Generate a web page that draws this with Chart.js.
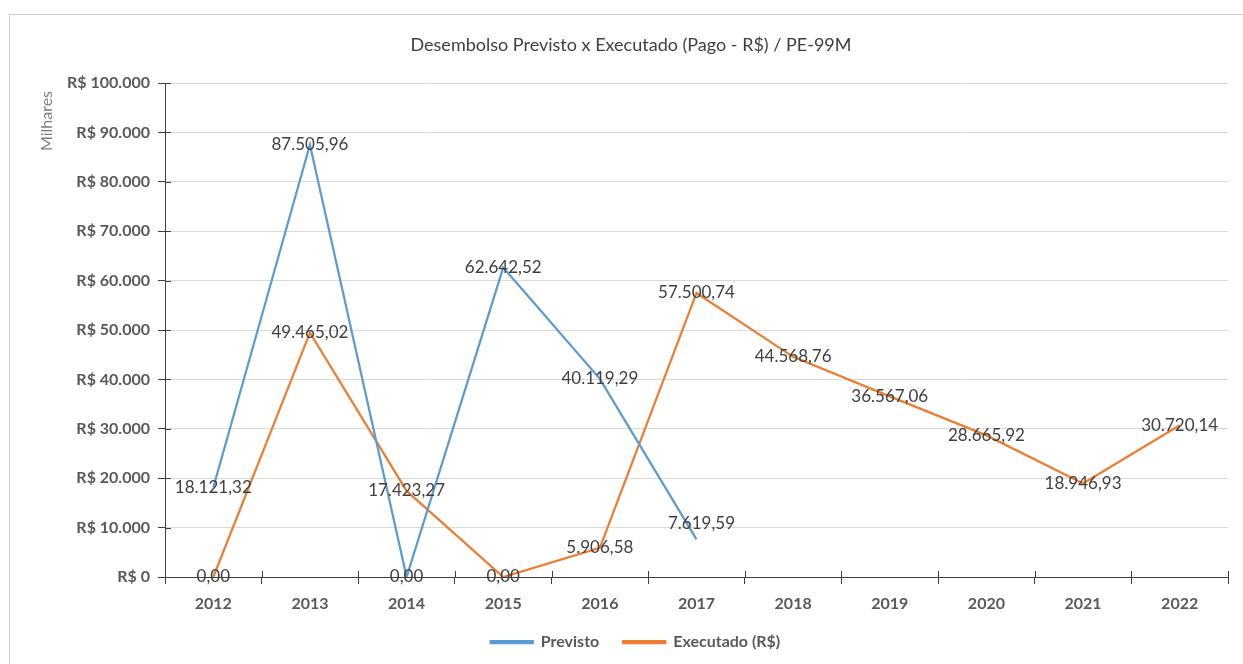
<!DOCTYPE html>
<html>
<head>
<meta charset="utf-8">
<script src="https://cdn.jsdelivr.net/npm/chart.js@4.4.0/dist/chart.umd.min.js"></script>
<style>
    html, body { margin: 0; padding: 0; background: #fff; }
    #frame {
        position: absolute; left: 9px; top: 14px; width: 1250px; height: 670px;
        border: 1px solid #d0d0d0; box-sizing: border-box;
    }
    #wrap { position: absolute; left: 0; top: 0; width: 1243px; height: 664px; }
</style>
</head>
<body>
<div id="frame"></div>
<div id="wrap"><canvas id="lineChart"></canvas></div>
<script>
const anos = ['2012', '2013', '2014', '2015', '2016', '2017', '2018', '2019', '2020', '2021', '2022'];
const previsto = [18121.32, 87505.96, 0, 62642.52, 40119.29, 7619.59, null, null, null, null, null];
const executado = [0, 49465.02, 17423.27, 0, 5906.58, 57500.74, 44568.76, 36567.06, 28665.92, 18946.93, 30720.14];
const yMax = 100000;
const yStep = 10000;

const fonte = 'Lato, "Open Sans", sans-serif';

function formatBR(v, casas) {
    const partes = v.toFixed(casas).split('.');
    const inteiro = partes[0].replace(/\B(?=(\d{3})+(?!\d))/g, '.');
    return partes.length > 1 ? inteiro + ',' + partes[1] : inteiro;
}

// data labels centred on each point, like Excel
const rotulos = {
    id: 'rotulos',
    afterDatasetsDraw(chart) {
        const ctx = chart.ctx;
        ctx.save();
        ctx.font = '17px ' + fonte;
        ctx.fillStyle = '#404040';
        ctx.textAlign = 'center';
        ctx.textBaseline = 'middle';
        chart.data.datasets.forEach((ds, i) => {
            const meta = chart.getDatasetMeta(i);
            const ultimo = ds.data.filter(v => v !== null).length - 1;
            meta.data.forEach((pt, j) => {
                const v = ds.data[j];
                if (v === null || v === undefined) return;
                // Excel nudged the last label of a broken series up and right
                const dx = (i === 0 && j === ultimo) ? 5 : 0;
                const dy = (i === 0 && j === ultimo) ? -16 : 0;
                ctx.fillText(formatBR(v, 2), pt.x + dx, pt.y + dy);
            });
        });
        ctx.restore();
    }
};

// axis title, chart title and tick marks crossing the axes
const eixos = {
    id: 'eixos',
    afterLayout(chart) {
        // legend sits a bit right of the canvas centre in the original
        if (chart.legend) chart.legend.left = 43;
    },
    afterDraw(chart) {
        const ctx = chart.ctx;
        const area = chart.chartArea;
        const y = chart.scales.y;
        ctx.save();
        ctx.strokeStyle = '#404040';
        ctx.lineWidth = 1;
        ctx.beginPath();
        for (let v = 0; v <= yMax; v += yStep) {
            const py = Math.round(y.getPixelForValue(v)) + 0.5;
            ctx.moveTo(area.left, py);
            ctx.lineTo(area.left + 6, py);
        }
        const passo = (area.right - area.left) / anos.length;
        for (let k = 0; k <= anos.length; k++) {
            const px = Math.round(area.left + k * passo) + 0.5;
            ctx.moveTo(px, area.bottom);
            ctx.lineTo(px, area.bottom - 6);
        }
        ctx.stroke();

        ctx.font = '18px ' + fonte;
        ctx.fillStyle = '#404040';
        ctx.textAlign = 'center';
        ctx.textBaseline = 'middle';
        ctx.fillText('Desembolso Previsto x Executado (Pago - R$) / PE-99M', 631, 45);

        ctx.translate(47, 121);
        ctx.rotate(-Math.PI / 2);
        ctx.font = '16px ' + fonte;
        ctx.fillStyle = '#7f7f7f';
        ctx.fillText('Milhares', 0, 0);
        ctx.restore();
    }
};

const lineChartCtx = document.getElementById('lineChart').getContext('2d');
const lineChart = new Chart(lineChartCtx, {
    type: 'line',
    data: {
        labels: anos,
        datasets: [{
            label: 'Previsto',
            data: previsto,
            borderColor: '#5b9bd5',
            backgroundColor: '#5b9bd5',
            borderWidth: 2.25,
            pointRadius: 0,
            tension: 0
        }, {
            label: 'Executado (R$)',
            data: executado,
            borderColor: '#ed7d31',
            backgroundColor: '#ed7d31',
            borderWidth: 2.25,
            pointRadius: 0,
            tension: 0
        }]
    },
    options: {
        responsive: true,
        maintainAspectRatio: false,
        animation: false,
        layout: {
            padding: { left: 0, right: 15, top: 83, bottom: 4 }
        },
        plugins: {
            title: { display: false },
            tooltip: { enabled: false },
            legend: {
                position: 'bottom',
                labels: {
                    boxWidth: 42,
                    boxHeight: 2,
                    padding: 24,
                    color: '#595959',
                    font: { family: fonte, size: 16, weight: 'bold' }
                }
            }
        },
        scales: {
            x: {
                offset: true,
                grid: {
                    offset: true,
                    drawOnChartArea: false,
                    tickLength: 7,
                    tickColor: '#404040'
                },
                border: { color: '#404040', width: 1 },
                ticks: {
                    color: '#595959',
                    padding: 10,
                    font: { family: fonte, size: 16, weight: 'bold' }
                },
                afterFit(scale) { scale.height = 33; }
            },
            y: {
                min: 0,
                max: yMax,
                grid: {
                    color: '#d9d9d9',
                    tickColor: '#404040',
                    tickLength: 7
                },
                border: { color: '#404040', width: 1 },
                ticks: {
                    stepSize: yStep,
                    color: '#595959',
                    padding: 8,
                    font: { family: fonte, size: 16, weight: 'bold' },
                    callback: (v) => 'R$ ' + formatBR(v, 0)
                },
                afterFit(scale) { scale.width = 165; }
            }
        }
    },
    plugins: [rotulos, eixos]
});
</script>
</body>
</html>
